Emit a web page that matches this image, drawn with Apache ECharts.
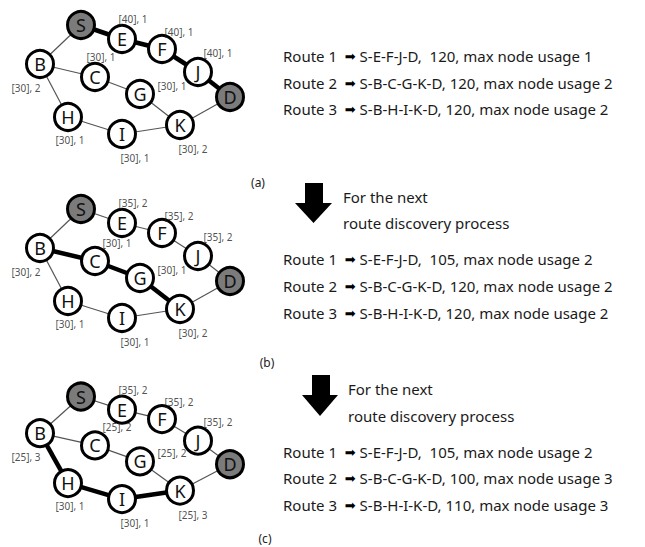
<!DOCTYPE html>
<html><head><meta charset="utf-8">
<script src="https://cdn.jsdelivr.net/npm/echarts@6/dist/echarts.min.js"></script>
<style>html,body{margin:0;padding:0;background:#fff}#c{width:645px;height:547px}</style>
</head><body><div id="c"></div>
<script>
// Graph structure (node layout in panel units)
const nodeNames = ['S','E','F','J','D','B','C','G','H','I','K'];
const nodeX = [81,122,162,198,230,40,95,140,68,122,180];
const nodeY = [25,39,49,72,97,64,77,94,117,134,125];
const edges = [['S','E'],['E','F'],['F','J'],['J','D'],['S','B'],['B','C'],['C','G'],['G','K'],['K','D'],['B','H'],['H','I'],['I','K']];
const endpoints = ['S','D'];

// Node status labels: [residual], usage
const labelNodes = ['E','F','J','C','G','B','H','I','K'];
const energyA = [40,40,40,30,30,30,30,30,30];
const usageA  = [1,1,1,1,1,2,1,1,2];
const energyB = [35,35,35,30,30,30,30,30,30];
const usageB  = [2,2,2,1,1,2,1,1,2];
const energyC = [35,35,35,25,25,25,30,30,25];
const usageC  = [2,2,2,2,2,3,1,1,3];

// Selected (bold) route per panel
const boldA = ['S','E','F','J','D'];
const boldB = ['B','C','G','K'];
const boldC = ['B','H','I','K'];

const ARW = '\u27A1';
const captions = ['(a)','(b)','(c)'];
const routesA = ['Route 1  \u27A1 S-E-F-J-D,  120, max node usage 1','Route 2  \u27A1 S-B-C-G-K-D, 120, max node usage 2','Route 3  \u27A1 S-B-H-I-K-D, 120, max node usage 2'];
const routesB = ['Route 1  \u27A1 S-E-F-J-D,  105, max node usage 2','Route 2  \u27A1 S-B-C-G-K-D, 120, max node usage 2','Route 3  \u27A1 S-B-H-I-K-D, 120, max node usage 2'];
const routesC = ['Route 1  \u27A1 S-E-F-J-D,  105, max node usage 2','Route 2  \u27A1 S-B-C-G-K-D, 100, max node usage 3','Route 3  \u27A1 S-B-H-I-K-D, 110, max node usage 3'];
const nextText = ['For the next','route discovery process'];

// ---- styles / layout ----
const FONT = '"Noto Sans", "DejaVu Sans", sans-serif';
const panelTop = [0, 184, 373];
const labelOffset = {E:[11,-20],F:[17,-17],J:[20,-19],C:[22,-18],G:[32,-8],B:[-14,24],H:[2,23],I:[13,24],K:[13,24]};
const labelOffsetCA = [6,-20];
const routeTextX = 283;
const routeTextY = [[56,83,109],[259,286,313],[452,478,505]];
const captionPos = [[258,182],[267,362],[265,538]];
const nextPos = [[343,197,223],[348,389,416]];
const arrows = [{x0:295,x1:332,s0:305,s1:323,y0:183,yh:203,y1:223},{x0:302,x1:338,s0:312,s1:330,y0:375,yh:395,y1:416}];

const panels = [
  {energy:energyA, usage:usageA, bold:boldA, routes:routesA},
  {energy:energyB, usage:usageB, bold:boldB, routes:routesB},
  {energy:energyC, usage:usageC, bold:boldC, routes:routesC}
];

function isBold(path, a, b){
  for(let i=0;i<path.length-1;i++){
    if((path[i]===a&&path[i+1]===b)||(path[i]===b&&path[i+1]===a)) return true;
  }
  return false;
}
const arrowRich = {a:{fontFamily:'"DejaVu Sans", sans-serif', fontSize:13, fill:'#000'}};

const grid=[], xAxis=[], yAxis=[], series=[], graphic=[];
panels.forEach((p,i)=>{
  grid.push({left:0, top:panelTop[i], width:260, height:185});
  xAxis.push({gridIndex:i, type:'value', min:0, max:260, show:false});
  yAxis.push({gridIndex:i, type:'value', min:0, max:185, inverse:true, show:false});
  series.push({
    type:'graph', coordinateSystem:'cartesian2d', xAxisIndex:i, yAxisIndex:i,
    layout:'none', silent:true, symbol:'circle', symbolSize:27, z:5,
    itemStyle:{color:'#ffffff', borderColor:'#000000', borderWidth:3},
    label:{show:true, position:'inside', formatter:'{b}', fontSize:18, color:'#111', fontFamily:FONT},
    data: nodeNames.map((n,k)=>({name:n, value:[nodeX[k], nodeY[k]],
      itemStyle: endpoints.includes(n)?{color:'#7b7b7b'}:undefined})),
    links: edges.map(e=>({source:e[0], target:e[1],
      lineStyle: isBold(p.bold,e[0],e[1])?{width:4.5, color:'#000', opacity:1}:{width:1.2, color:'#555', opacity:1}})),
    lineStyle:{curveness:0}
  });
  series.push({
    type:'scatter', xAxisIndex:i, yAxisIndex:i, symbolSize:0, silent:true, z:6,
    data: labelNodes.map((n,k)=>{
      const idx = nodeNames.indexOf(n);
      const off = (n==='C'&&i===0)?labelOffsetCA:labelOffset[n];
      return {value:[nodeX[idx], nodeY[idx]], label:{offset:off, formatter:'['+p.energy[k]+'], '+p.usage[k]}};
    }),
    label:{show:true, position:'inside', fontSize:10, color:'#222', fontFamily:FONT}
  });
  p.routes.forEach((t,r)=>{
    graphic.push({type:'text', x:routeTextX, y:routeTextY[i][r], style:{text:t.replace(ARW,'{a|'+ARW+'}'), rich:arrowRich, font:'15px '+FONT, fill:'#1a1a1a', textVerticalAlign:'middle'}});
  });
  graphic.push({type:'text', x:captionPos[i][0], y:captionPos[i][1], style:{text:captions[i], font:'12px '+FONT, fill:'#222', textAlign:'center', textVerticalAlign:'middle'}});
});
arrows.forEach((a,i)=>{
  graphic.push({type:'polygon', shape:{points:[[a.s0,a.y0],[a.s1,a.y0],[a.s1,a.yh],[a.x1,a.yh],[(a.x0+a.x1)/2,a.y1],[a.x0,a.yh],[a.s0,a.yh]]}, style:{fill:'#000'}});
  graphic.push({type:'text', x:nextPos[i][0], y:nextPos[i][1], style:{text:nextText[0], font:'15px '+FONT, fill:'#1a1a1a', textVerticalAlign:'middle'}});
  graphic.push({type:'text', x:nextPos[i][0], y:nextPos[i][2], style:{text:nextText[1], font:'15px '+FONT, fill:'#1a1a1a', textVerticalAlign:'middle'}});
});

const chart = echarts.init(document.getElementById('c'), null, {renderer:'svg'});
chart.setOption({animation:false, backgroundColor:'#fff', grid, xAxis, yAxis, series, graphic});
</script></body></html>
